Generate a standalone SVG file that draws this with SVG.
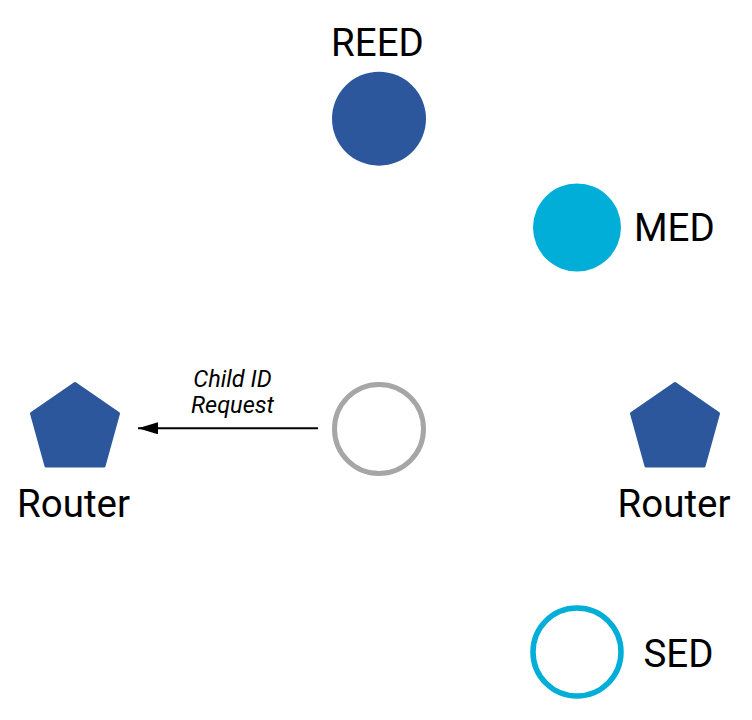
<svg xmlns="http://www.w3.org/2000/svg" width="752" height="720" viewBox="0 0 752 720">
  <defs>
    <style>
      .lbl { font-family: Roboto, "Liberation Sans", sans-serif; font-size: 38.5px; fill: #000; }
      .edge-lbl { font-family: Roboto, "Liberation Sans", sans-serif; font-size: 23.5px; font-style: italic; fill: #000; }
      .router { fill: #2C579C; stroke: #2C579C; stroke-width: 3; stroke-linejoin: round; }
      .reed { fill: #2C579C; }
      .med { fill: #00AED8; }
      .parent { fill: #fff; stroke: #A6A6A6; stroke-width: 5; }
      .sed { fill: #fff; stroke: #00AED8; stroke-width: 5.5; }
      .conn { stroke: #000; stroke-width: 2; fill: none; }
    </style>
    <marker id="arrow" viewBox="0 0 20 12" refX="20" refY="6" markerWidth="20" markerHeight="12" markerUnits="userSpaceOnUse" orient="auto">
      <path d="M0,0 L20,6 L0,12 z" fill="#000"/>
    </marker>
  </defs>
  <rect width="752" height="720" fill="#fff"/>

  <g id="reed">
    <text class="lbl" x="377.5" y="55.5" text-anchor="middle">REED</text>
    <circle class="reed" cx="379" cy="118.7" r="47"/>
  </g>

  <g id="med">
    <circle class="med" cx="577" cy="227.5" r="44"/>
    <text class="lbl" x="634" y="240.7">MED</text>
  </g>

  <g id="router-left">
    <polygon class="router" points="75,383.5 118.5,413.5 104,466 46,466 31.5,413.5"/>
    <text class="lbl" x="73.5" y="516.5" text-anchor="middle">Router</text>
  </g>

  <g id="router-right">
    <polygon class="router" points="675,383.5 718.5,413.5 704,466 646,466 631.5,413.5"/>
    <text class="lbl" x="674" y="516.5" text-anchor="middle">Router</text>
  </g>

  <g id="child">
    <circle class="parent" cx="379" cy="429" r="44.5"/>
  </g>

  <g id="sed">
    <circle class="sed" cx="577" cy="652" r="44"/>
    <text class="lbl" x="643.5" y="666.5">SED</text>
  </g>

  <g id="connectors">
    <line class="conn" x1="318" y1="428.3" x2="138" y2="428.3" marker-end="url(#arrow)"/>
    <text class="edge-lbl" x="232.5" y="386.5" text-anchor="middle">Child ID</text>
    <text class="edge-lbl" x="232.5" y="413" text-anchor="middle">Request</text>
  </g>
</svg>
